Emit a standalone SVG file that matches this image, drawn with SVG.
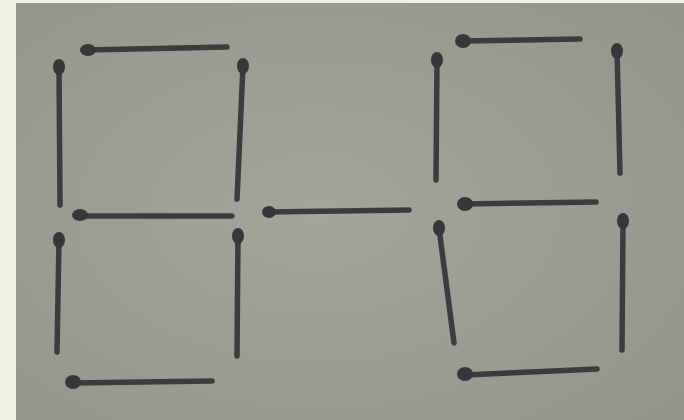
<svg xmlns="http://www.w3.org/2000/svg" width="684" height="420" viewBox="0 0 684 420">
<defs>
<radialGradient id="paper" cx="0.45" cy="0.5" r="0.7">
<stop offset="0" stop-color="#a4a59a"/>
<stop offset="1" stop-color="#95968b"/>
</radialGradient>
<style>
.m{stroke:#3a3c3f;stroke-width:5.5;stroke-linecap:round;fill:none}
.h{fill:#35373a}
</style>
</defs>
<rect width="684" height="420" fill="#eef3df"/>
<rect x="16" y="3" width="668" height="417" fill="url(#paper)"/>
<g id="connectors">
<g id="L-top"><path class="m" d="M86 50 L227 47"/><ellipse class="h" cx="88" cy="50" rx="8" ry="6"/></g>
<g id="L-upper-left"><path class="m" d="M59 67 L60 205"/><ellipse class="h" cx="59" cy="67" rx="6" ry="8"/></g>
<g id="L-upper-right"><path class="m" d="M243 66 L237 199"/><ellipse class="h" cx="243" cy="66" rx="6" ry="8"/></g>
<g id="L-middle"><path class="m" d="M79 216 L232 216"/><ellipse class="h" cx="80" cy="215" rx="8" ry="6"/></g>
<g id="L-lower-left"><path class="m" d="M59 240 L57 352"/><ellipse class="h" cx="59" cy="240" rx="6" ry="8"/></g>
<g id="L-lower-right"><path class="m" d="M238 236 L237 356"/><ellipse class="h" cx="238" cy="236" rx="6" ry="8"/></g>
<g id="L-bottom"><path class="m" d="M72 383 L212 381"/><ellipse class="h" cx="73" cy="382" rx="8" ry="7"/></g>
<g id="middle-dash"><path class="m" d="M268 212 L409 210"/><ellipse class="h" cx="269" cy="212" rx="7" ry="6"/></g>
<g id="R-top"><path class="m" d="M462 41 L580 39"/><ellipse class="h" cx="463" cy="41" rx="8" ry="7"/></g>
<g id="R-upper-left"><path class="m" d="M437 60 L436 180"/><ellipse class="h" cx="437" cy="60" rx="6" ry="8"/></g>
<g id="R-upper-right"><path class="m" d="M617 50 L620 173"/><ellipse class="h" cx="617" cy="51" rx="6" ry="8"/></g>
<g id="R-middle"><path class="m" d="M464 204 L596 202"/><ellipse class="h" cx="465" cy="204" rx="8" ry="7"/></g>
<g id="R-lower-left"><path class="m" d="M439 228 L454 343"/><ellipse class="h" cx="439" cy="228" rx="6" ry="8"/></g>
<g id="R-lower-right"><path class="m" d="M623 222 L622 350"/><ellipse class="h" cx="623" cy="221" rx="6" ry="8"/></g>
<g id="R-bottom"><path class="m" d="M464 375 L597 369"/><ellipse class="h" cx="465" cy="374" rx="8" ry="7"/></g>
</g>
</svg>
